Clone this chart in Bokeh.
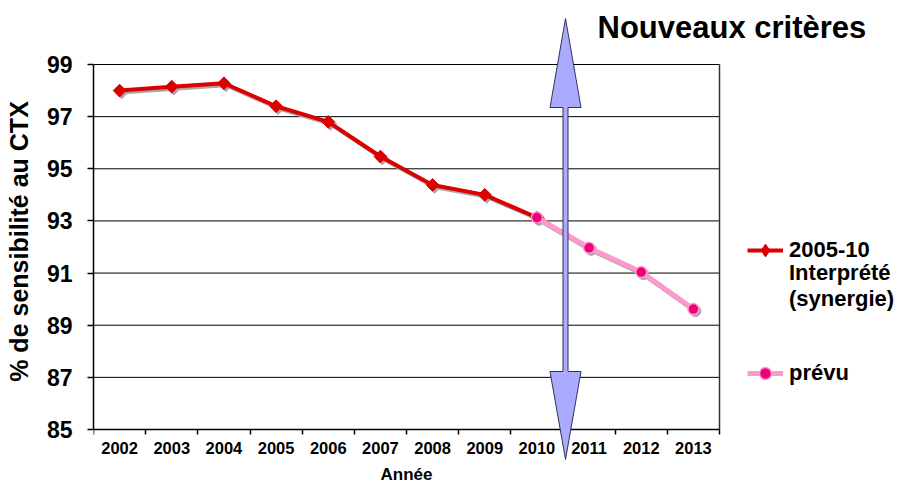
import numpy as np
from bokeh.plotting import figure
from bokeh.models import (Range1d, FixedTicker, Legend, LegendItem, Label,
                          PolyAnnotation)
from bokeh.embed import file_html
from bokeh.resources import INLINE

# ---------------- data ----------------
years = ["2002", "2003", "2004", "2005", "2006", "2007",
         "2008", "2009", "2010", "2011", "2012", "2013"]
interp_years = ["2002", "2003", "2004", "2005", "2006", "2007", "2008", "2009", "2010"]
interp_vals = [98.0, 98.15, 98.28, 97.4, 96.8, 95.47, 94.38, 94.0, 93.13]
prevu_years = ["2010", "2011", "2012", "2013"]
prevu_vals = [93.13, 91.97, 91.04, 89.62]
y_ticks = [85, 87, 89, 91, 93, 95, 97, 99]

FONT = "Liberation Sans"

# ---------------- layout (pixels) ----------------
W, H = 897, 482
LEFT = 93                     # left panel for y axis
PLOT_W_PX, PLOT_H_PX = 626, 365   # the boxed plot area
PLOT_TOP_PX = 64              # from canvas top
n = len(years)
ymin, ymax = y_ticks[0], y_ticks[-1]
ppu_x = PLOT_W_PX / n
ppu_y = PLOT_H_PX / (ymax - ymin)
frame_w = W - LEFT
frame_h = H
x_end = frame_w / ppu_x
y_top = ymax + PLOT_TOP_PX / ppu_y
y_bot = ymin - (H - PLOT_TOP_PX - PLOT_H_PX) / ppu_y


def fy(page_y):
    """canvas y (from top) -> screen units of frame (from bottom)"""
    return frame_h - page_y


def fx(page_x):
    return page_x - LEFT


pos = {y: i + 0.5 for i, y in enumerate(years)}
ix = np.array([pos[y] for y in interp_years])
iy = np.array(interp_vals)
px = np.array([pos[y] for y in prevu_years])
py = np.array(prevu_vals)

p = figure(width=W, height=H, x_range=Range1d(0, x_end),
           y_range=Range1d(y_bot, y_top), output_backend="svg",
           toolbar_location=None, min_border_left=LEFT, min_border_right=0,
           min_border_top=0, min_border_bottom=0)
p.background_fill_color = "white"
p.border_fill_color = "white"
p.outline_line_color = None

# ---------------- axes ----------------
centers = [i + 0.5 for i in range(n)]
p.xaxis.fixed_location = ymin
p.xaxis.bounds = (0, n)
p.xaxis.ticker = FixedTicker(ticks=centers, minor_ticks=list(range(n + 1)))
p.xaxis.major_label_overrides = {c: y for c, y in zip(centers, years)}
p.xaxis.major_tick_out = 0
p.xaxis.major_tick_in = 0
p.xaxis.minor_tick_out = 5
p.xaxis.minor_tick_in = 0
p.xaxis.minor_tick_line_color = "black"
p.xaxis.minor_tick_line_width = 1.5
p.xaxis.major_label_standoff = 7
p.xaxis.major_label_text_font = FONT
p.xaxis.major_label_text_font_style = "bold"
p.xaxis.major_label_text_font_size = "16.5px"
p.xaxis.major_label_text_color = "black"
p.xaxis.axis_label = "Année"
p.xaxis.axis_label_text_font = FONT
p.xaxis.axis_label_text_font_style = "bold"
p.xaxis.axis_label_text_font_size = "17px"
p.xaxis.axis_label_text_color = "black"
p.xaxis.axis_label_standoff = 8
p.xaxis.axis_line_color = "black"
p.xaxis.axis_line_width = 1.5

p.yaxis.bounds = (ymin, ymax)
p.yaxis.ticker = FixedTicker(ticks=y_ticks)
p.yaxis.minor_tick_line_color = None
p.yaxis.major_tick_out = 6
p.yaxis.major_tick_in = 0
p.yaxis.major_tick_line_width = 1.5
p.yaxis.major_label_standoff = 15
p.yaxis.major_label_text_font = FONT
p.yaxis.major_label_text_font_style = "bold"
p.yaxis.major_label_text_font_size = "23px"
p.yaxis.major_label_text_color = "black"
p.yaxis.axis_label = "% de sensibilité au CTX"
p.yaxis.axis_label_text_font = FONT
p.yaxis.axis_label_text_font_style = "bold"
p.yaxis.axis_label_text_font_size = "25px"
p.yaxis.axis_label_text_color = "black"
p.yaxis.axis_label_standoff = 11
p.yaxis.axis_line_color = "black"
p.yaxis.axis_line_width = 1.5

p.grid.visible = False
# horizontal grid lines and right border of the plot box
p.segment(x0=0, x1=n, y0=y_ticks, y1=y_ticks, line_color="black", line_width=1)
p.segment(x0=[n], x1=[n], y0=[ymin], y1=[ymax], line_color="#333333", line_width=1.5)

# ---------------- shadows ----------------
SDX, SDY = 2 / ppu_x, -2 / ppu_y
SHADOW = "#a8a8a8"
p.line(ix + SDX, iy + SDY, line_color=SHADOW, line_width=4)
p.line(px + SDX, py + SDY, line_color=SHADOW, line_width=5)
p.scatter(ix + SDX, iy + SDY, marker="square", angle=np.pi / 4, size=9,
          fill_color=SHADOW, line_color=SHADOW)
p.scatter(px + SDX, py + SDY, marker="circle", size=11,
          fill_color=SHADOW, line_color=SHADOW)

# ---------------- series ----------------
RED = "#dd0000"
PINK_LINE = "#ff99cc"
PINK_DOT = "#ee0077"
r_line = p.line(ix, iy, line_color=RED, line_width=4)
p_line = p.line(px, py, line_color=PINK_LINE, line_width=5)
# diamond glyph used for the legend swatch (hidden under the rotated squares)
r_dia = p.scatter(ix, iy, marker="diamond", size=11, fill_color=RED,
                  line_color=RED, line_width=1)
r_pts = p.scatter(ix, iy, marker="square", angle=np.pi / 4, size=9,
                  fill_color=RED, line_color=RED)
p_pts = p.scatter(px, py, marker="circle", size=11,
                  fill_color=PINK_DOT, line_color="#ff9ccc", line_width=1.5)

# legend-only line for the text continuation rows
dummy = p.line([], [], line_alpha=0)

# ---------------- legends ----------------
common = dict(border_line_color=None, background_fill_alpha=0, padding=0,
              margin=0, spacing=0, glyph_width=36, label_standoff=6,
              label_text_font=FONT, label_text_font_style="bold",
              label_text_font_size="22px", label_text_color="black")
leg_x = fx(747)
leg1a = Legend(items=[LegendItem(label="2005-10", renderers=[r_line, r_dia])],
               location=(leg_x, fy(266)), label_height=32, glyph_height=32,
               **common)
leg1b = Legend(items=[LegendItem(label="Interprété", renderers=[dummy]),
                      LegendItem(label="(synergie)", renderers=[dummy])],
               location=(leg_x, fy(312)), label_height=24, glyph_height=24,
               **common)
leg2 = Legend(items=[LegendItem(label="prévu", renderers=[p_line, p_pts])],
              location=(leg_x, fy(388)), label_height=30, glyph_height=30,
              **common)
for lg in (leg1a, leg1b, leg2):
    p.add_layout(lg, "center")

# ---------------- double arrow (screen units, relative to frame) ----------------
ax_c, head_hw, shaft_hw = fx(565), 15.5, 2.5
top_tip, top_base = fy(18), fy(107)
bot_base, bot_tip = fy(371), fy(459)
arrow = PolyAnnotation(
    xs=[ax_c, ax_c + head_hw, ax_c + shaft_hw, ax_c + shaft_hw, ax_c + head_hw,
        ax_c, ax_c - head_hw, ax_c - shaft_hw, ax_c - shaft_hw, ax_c - head_hw],
    ys=[top_tip, top_base, top_base, bot_base, bot_base,
        bot_tip, bot_base, bot_base, top_base, top_base],
    xs_units="screen", ys_units="screen",
    fill_color="#aaaaff", fill_alpha=1, line_color="#333355", line_width=1,
    line_alpha=1)
p.add_layout(arrow)

title = Label(x=fx(597), y=fy(27), x_units="screen", y_units="screen",
              text="Nouveaux critères", text_font=FONT, text_font_style="bold",
              text_font_size="31px", text_baseline="middle", text_align="left",
              text_color="black")
p.add_layout(title)

open("out.html", "w").write(file_html(p, INLINE))
